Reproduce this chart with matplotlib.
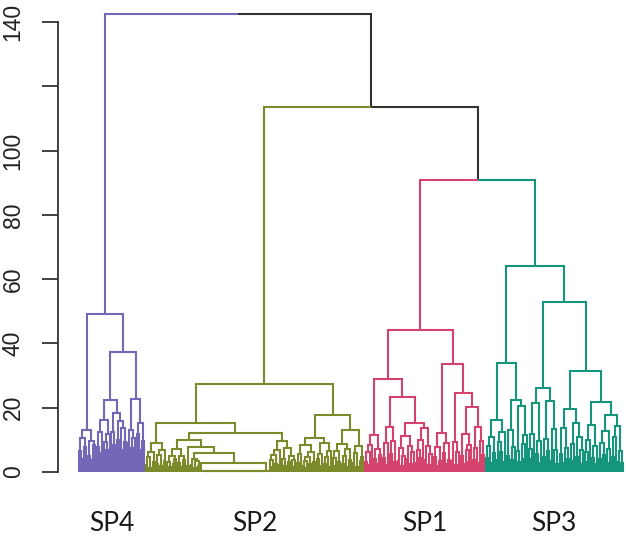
import numpy as np
import matplotlib.pyplot as plt
from matplotlib.transforms import blended_transform_factory

# dendrogram written as the merge height between each pair of neighbouring
# leaves, in plot order (the tree is rebuilt from these heights)
sp4_gaps = [6.5, 10.5, 4.2, 7.9, 13.0, 5.1, 9.8, 3.6, 8.4,
            49.2,
            7.8, 12.5, 5.9, 16.2, 9.4, 6.8, 11.7,
            22.4,
            12.6, 8.3, 18.3, 10.1, 15.9, 6.7, 13.8, 9.2,
            37.3,
            8.9, 13.2, 7.4, 10.6, 22.7, 11.8, 6.9, 15.1, 9.7]

sp2_gaps = [2.1, 4.6, 1.3, 6.2, 3.0, 9.0, 2.6, 5.4, 1.8, 6.8, 3.4,
            15.2,
            3.2, 1.5, 5.1, 2.4, 4.0, 7.1, 2.8, 4.9, 1.6, 3.7,
            10.0, 1.9, 7.7,
            2.3, 4.1, 1.4, 3.3, 2.0,
            5.9, 2.9,
            0.3, 0.3, 0.3, 0.3, 0.3, 0.3, 0.3, 0.3, 0.3, 0.3, 0.3, 0.3,
            0.3, 0.3, 0.3, 0.3, 0.3, 0.3, 0.3, 0.3, 0.3, 0.3, 0.3, 0.3,
            0.3, 0.3, 0.3, 0.3, 0.3, 0.3, 0.3, 0.3, 0.3, 0.3, 0.3, 0.3,
            12.2,
            3.6, 1.7, 5.3, 2.5, 6.9, 2.2, 9.8, 4.2, 2.0, 7.4, 3.1, 5.0, 1.6, 3.8,
            27.4,
            2.7, 5.6, 1.9, 8.3, 3.5, 1.4, 4.8, 2.6, 6.1, 3.0,
            10.5, 3.9, 1.8, 5.7, 9.0, 2.4, 4.6, 1.5, 6.4,
            17.7,
            4.3, 2.0, 6.6, 3.2, 8.8, 2.5, 5.1, 1.7, 7.2, 3.6,
            13.0, 2.8, 5.9, 1.6, 8.1, 3.3, 4.7]

sp1_gaps = [3.1, 6.3, 2.2, 8.5, 11.5, 4.0, 7.1, 2.6, 5.4,
            28.8,
            4.4, 8.9, 2.3, 14.1, 5.6, 9.7, 3.0,
            23.2,
            3.5, 7.6, 1.9, 5.0, 11.2, 3.9, 8.0, 2.4, 6.3,
            15.1,
            2.9, 6.8, 4.4, 10.1, 13.7, 3.6, 8.2, 2.1, 5.5,
            44.2,
            4.7, 2.0, 7.9, 3.3, 12.0, 5.8, 2.5, 9.1, 3.8,
            33.6,
            3.4, 9.4, 2.2, 6.1,
            24.7,
            4.9, 2.6, 11.8, 6.7, 3.1, 8.3,
            20.1,
            3.7, 7.4, 13.9, 2.9, 9.6, 5.2]

sp3_gaps = [4.5, 8.2, 2.7, 10.9, 5.9, 16.2, 3.8, 9.3, 6.1, 12.4, 3.2,
            33.8,
            5.1, 13.0, 3.6, 7.8,
            22.4,
            6.4, 3.0, 20.5, 8.7, 4.2, 11.6,
            64.2,
            7.2, 3.9, 11.9, 21.4, 5.5, 9.8, 2.8,
            26.0,
            4.8, 10.3, 6.6, 22.2, 3.4, 13.5, 7.0, 2.5,
            52.9,
            5.7, 2.9, 13.8, 7.5, 4.0,
            19.5,
            3.3, 8.6, 15.2, 4.7, 11.0, 2.6, 6.9,
            31.5,
            6.2, 3.1, 9.9, 14.6, 4.5, 8.1, 2.4,
            21.9,
            3.9, 9.0, 5.3, 12.7, 2.8, 7.3,
            17.7,
            4.6, 10.8, 3.0, 14.2, 6.5, 2.7]

# heights where the groups join: SP4|SP2, SP2|SP1, SP1|SP3
join_heights = [142.6, 113.7, 90.9]

clusters = ["SP4", "SP2", "SP1", "SP3"]
colors = ["#7367B7", "#7C8A2B", "#D3436D", "#15957B"]
top_color = "#333333"

y_ticks = [0, 20, 40, 60, 80, 100, 120, 140]
y_labels = ["0", "20", "40", "60", "80", "100", "", "140"]

gaps = []
leaf_cluster = []
for c, g in enumerate([sp4_gaps, sp2_gaps, sp1_gaps, sp3_gaps]):
    if c > 0:
        gaps.append(join_heights[c - 1])
    gaps.extend(g)
    leaf_cluster.extend([c] * (len(g) + 1))
gaps = np.array(gaps)
leaf_cluster = np.array(leaf_cluster)

segs = {c: [] for c in range(-1, len(clusters))}


def build(lo, hi):
    if lo == hi:
        return float(lo), 0.0, int(leaf_cluster[lo])
    part = gaps[lo:hi]
    k = lo + len(part) - 1 - int(np.argmax(part[::-1]))
    xl, hl, cl = build(lo, k)
    xr, hr, cr = build(k + 1, hi)
    h = gaps[k]
    x = (xl + xr) / 2
    for xc, hc, cc in ((xl, hl, cl), (xr, hr, cr)):
        segs[cc].append(([xc, xc, x], [hc, h, h]))
    return x, h, (cl if cl == cr else -1)


build(0, len(leaf_cluster) - 1)

W, H = 626, 537
fig = plt.figure(figsize=(W / 100, H / 100), dpi=100)
ax = fig.add_axes([58 / W, 47 / H, 568 / W, 490 / H])

for c, lines in segs.items():
    xs, ys = [], []
    for lx, ly in lines:
        xs += lx + [np.nan]
        ys += ly + [np.nan]
    ax.plot(xs, ys, color=top_color if c < 0 else colors[c], lw=1.5,
            solid_joinstyle="miter", solid_capstyle="butt")

ax.set_xlim(-21 / 1.8, -21 / 1.8 + 568 / 1.8)
ax.set_ylim(-18 / 3.214, -18 / 3.214 + 490 / 3.214)

for s in ["top", "right", "bottom"]:
    ax.spines[s].set_visible(False)
ax.spines["left"].set_bounds(0, 140)
ax.spines["left"].set_color(top_color)
ax.spines["left"].set_linewidth(1.3)
ax.set_xticks([])
ax.set_yticks(y_ticks)
ax.set_yticklabels(y_labels, family="Liberation Sans", fontsize=16.5, color="#222222")
ax.tick_params(axis="y", length=11.5, width=1.3, color=top_color, pad=12.5)
plt.setp(ax.get_yticklabels(), rotation=90, va="center")

tr = blended_transform_factory(ax.transData, fig.transFigure)
idx = np.arange(len(leaf_cluster))
for c, name in enumerate(clusters):
    ax.text(idx[leaf_cluster == c].mean(), 0.011, name, transform=tr,
            ha="center", va="baseline", fontsize=19, family="Lato", color="#1a1a1a")

fig.savefig("out.png", dpi=100)
